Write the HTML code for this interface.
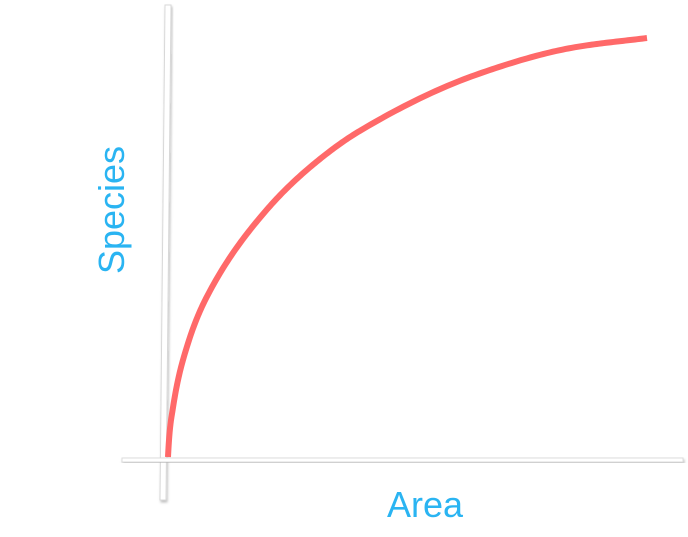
<!DOCTYPE html>
<html><head><meta charset="utf-8"><style>
html,body{margin:0;padding:0;background:#fff;width:688px;height:537px;overflow:hidden}
svg{display:block}
text{font-family:"Liberation Sans",sans-serif;fill:#2ab4f2}
</style></head><body>
<svg width="688" height="537">
<defs><filter id="sh" x="-20%" y="-20%" width="140%" height="140%"><feDropShadow dx="1" dy="2" stdDeviation="1.2" flood-color="#000" flood-opacity="0.25"/></filter></defs>
<g>
<polygon points="165,5 171,5 166,500 160,500" fill="#fff" stroke="#d8d8d8" stroke-width="1" filter="url(#sh)"/>
</g>
<g>
<rect x="122" y="458" width="561" height="4" fill="#fff" stroke="#dcdcdc" stroke-width="1" filter="url(#sh)"/>
</g>
<path id="curve" fill="none" stroke="#ff6969" stroke-width="6" stroke-linecap="butt" stroke-linejoin="round"/>
<text x="0" y="0" font-size="36" text-anchor="middle" transform="translate(124,210) rotate(-90)">Species</text>
<text x="425" y="517" font-size="36" text-anchor="middle">Area</text>
</svg>
<script>
const areaValues=[0,1,4,8,20,30,40,65,85,100];
const speciesValues=[0,11.5,26.5,38,58.2,69.5,77.8,91.5,97.8,100];
function xs(v){return 168+v*4.79;}
function ys(v){return 457-v*4.19;}
// monotone cubic (Fritsch-Carlson) interpolation
const n=areaValues.length;
const dk=[],m=[];
for(let i=0;i<n-1;i++)dk.push((speciesValues[i+1]-speciesValues[i])/(areaValues[i+1]-areaValues[i]));
m[0]=dk[0]*2;m[n-1]=dk[n-2];
for(let i=1;i<n-1;i++){
 if(dk[i-1]*dk[i]<=0)m[i]=0;
 else{const h0=areaValues[i]-areaValues[i-1],h1=areaValues[i+1]-areaValues[i];
  const w1=2*h1+h0,w2=h1+2*h0;m[i]=(w1+w2)/(w1/dk[i-1]+w2/dk[i]);}
}
let d='M'+xs(areaValues[0])+','+ys(speciesValues[0]);
for(let i=0;i<n-1;i++){
 const h=areaValues[i+1]-areaValues[i];
 const steps=30;
 for(let s=1;s<=steps;s++){
  const t=s/steps,t2=t*t,t3=t2*t;
  const y=(2*t3-3*t2+1)*speciesValues[i]+(t3-2*t2+t)*h*m[i]+(-2*t3+3*t2)*speciesValues[i+1]+(t3-t2)*h*m[i+1];
  d+=' L'+xs(areaValues[i]+t*h).toFixed(2)+','+ys(y).toFixed(2);
 }
}
document.getElementById('curve').setAttribute('d',d);
</script>
</body></html>
